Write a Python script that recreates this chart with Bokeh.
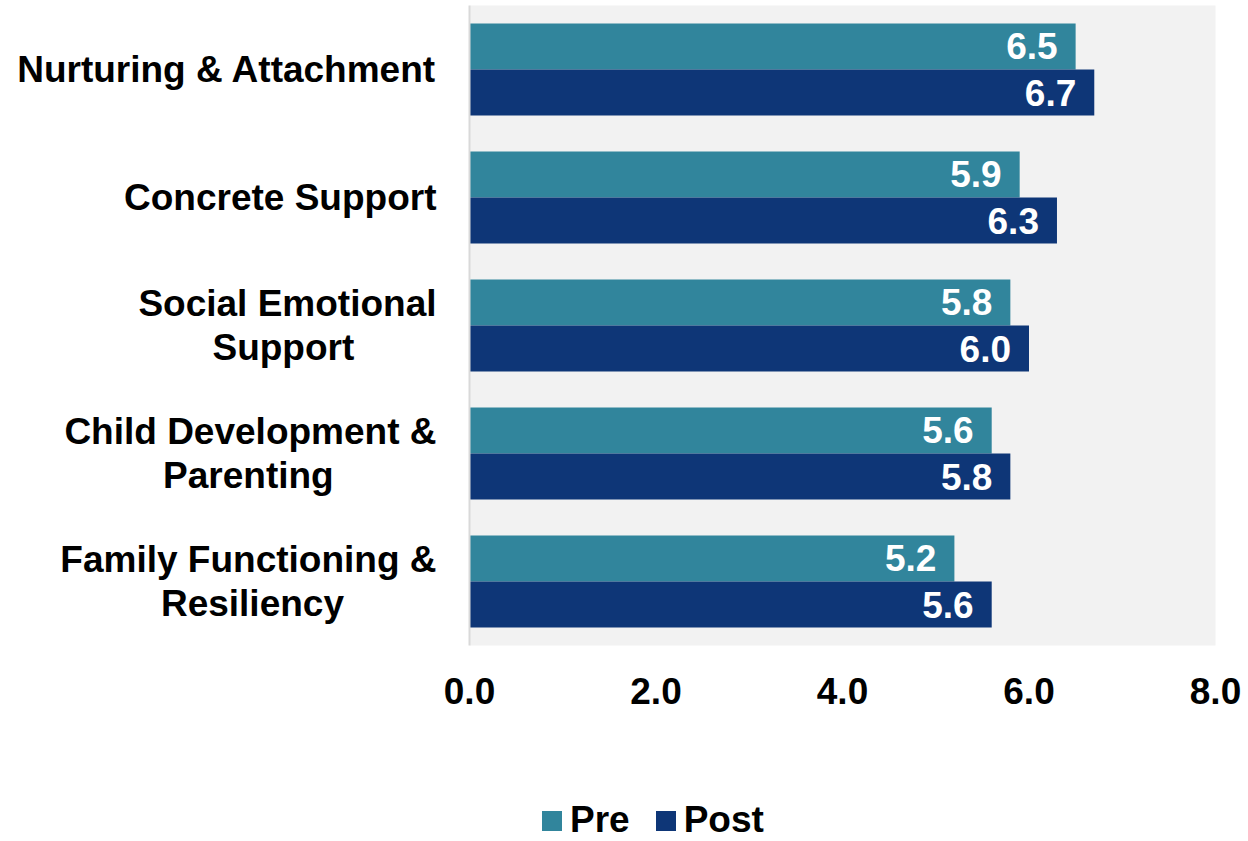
from bokeh.plotting import figure
from bokeh.layouts import column
from bokeh.models import (ColumnDataSource, Range1d, FactorRange, FixedTicker,
                          NumeralTickFormatter, Legend, LegendItem)
from bokeh.transform import dodge
from bokeh.core.properties import value
from bokeh.embed import file_html
from bokeh.resources import INLINE

# ---- data ----
categories = ["Nurturing & Attachment", "Concrete Support", "Social Emotional\nSupport",
              "Child Development &\nParenting", "Family Functioning &\nResiliency"]
pre = [6.5, 5.9, 5.8, 5.6, 5.2]
post = [6.7, 6.3, 6.0, 5.8, 5.6]
x_ticks = [0, 2, 4, 6, 8]
series = ["Pre", "Post"]
colors = ["#31859C", "#0E3677"]

FONT = "Liberation Sans"
FS = "37px"

# display versions of the category labels: second lines padded with
# no-break spaces so that they sit centred under the first line
NB = "\u00a0"
pad = {"Social Emotional\nSupport": 8, "Child Development &\nParenting": 10,
       "Family Functioning &\nResiliency": 9}
factors = [c + NB * pad.get(c, 0) for c in categories]

src = ColumnDataSource(dict(
    cat=factors, pre=pre, post=post,
    pre_txt=[f"{v:.1f}" for v in pre],
    post_txt=[f"{v:.1f}" for v in post],
))

p = figure(width=1248, height=790, output_backend="svg", toolbar_location=None,
           y_range=FactorRange(factors=list(reversed(factors)), range_padding=0),
           x_range=Range1d(0, 8),
           min_border_left=469, min_border_right=33, min_border_top=5, min_border_bottom=145)

p.background_fill_color = "#F2F2F2"
p.border_fill_color = "white"
p.outline_line_color = None
p.xgrid.visible = False
p.ygrid.visible = False

r_pre = p.hbar(y=dodge("cat", 0.18, range=p.y_range), right="pre", left=0, height=0.36,
               source=src, color=colors[0], line_color=None)
r_post = p.hbar(y=dodge("cat", -0.18, range=p.y_range), right="post", left=0, height=0.36,
                source=src, color=colors[1], line_color=None)

for col, off in (("pre", 0.18), ("post", -0.18)):
    p.text(x=col, y=dodge("cat", off, range=p.y_range), text=col + "_txt", source=src,
           x_offset=-18, text_align="right", text_baseline="middle",
           text_color="white", text_font=value(FONT), text_font_style="bold",
           text_font_size=FS)

# x axis
xa = p.xaxis[0]
xa.ticker = FixedTicker(ticks=x_ticks)
xa.formatter = NumeralTickFormatter(format="0.0")
xa.axis_line_color = None
xa.major_tick_line_color = None
xa.minor_tick_line_color = None
xa.major_tick_out = 0
xa.major_tick_in = 0
xa.major_label_standoff = 32
xa.major_label_text_font = FONT
xa.major_label_text_font_style = "bold"
xa.major_label_text_font_size = FS
xa.major_label_text_color = "black"

# y axis
ya = p.yaxis[0]
ya.axis_line_color = "#D9D9D9"
ya.axis_line_width = 2
ya.major_tick_line_color = None
ya.minor_tick_line_color = None
ya.major_tick_out = 0
ya.major_tick_in = 0
ya.major_label_standoff = 33
ya.major_label_text_font = FONT
ya.major_label_text_font_style = "bold"
ya.major_label_text_font_size = FS
ya.major_label_text_color = "black"
ya.major_label_text_line_height = 1.065

# ---- legend strip below the chart (its frame aligns with the chart's frame) ----
lg = figure(width=1248, height=51, output_backend="svg", toolbar_location=None,
            x_range=Range1d(0, 1), y_range=Range1d(0, 1),
            x_axis_type=None, y_axis_type=None,
            min_border_left=0, min_border_right=0, min_border_top=0, min_border_bottom=0)
lg.outline_line_color = None
lg.background_fill_color = "white"
lg.border_fill_color = "white"
lg.xgrid.visible = False
lg.ygrid.visible = False
# proxy renderers for the legend swatches (values fall outside this strip's range)
l_pre = lg.hbar(y="pre", right=0, left=0, height=0.1, source=src,
                color=colors[0], line_color=None)
l_post = lg.hbar(y="post", right=0, left=0, height=0.1, source=src,
                 color=colors[1], line_color=None)

legend = Legend(items=[LegendItem(label=series[0], renderers=[l_pre]),
                       LegendItem(label=series[1], renderers=[l_post])],
                location=(70, 0), orientation="horizontal",
                glyph_width=25, glyph_height=25, label_standoff=6, spacing=23,
                padding=0, margin=0, border_line_color=None, background_fill_alpha=0,
                label_text_font=FONT, label_text_font_style="bold",
                label_text_font_size=FS, label_text_color="black")
lg.add_layout(legend, "center")

open("out.html", "w").write(file_html(column(p, lg, spacing=0), INLINE))
